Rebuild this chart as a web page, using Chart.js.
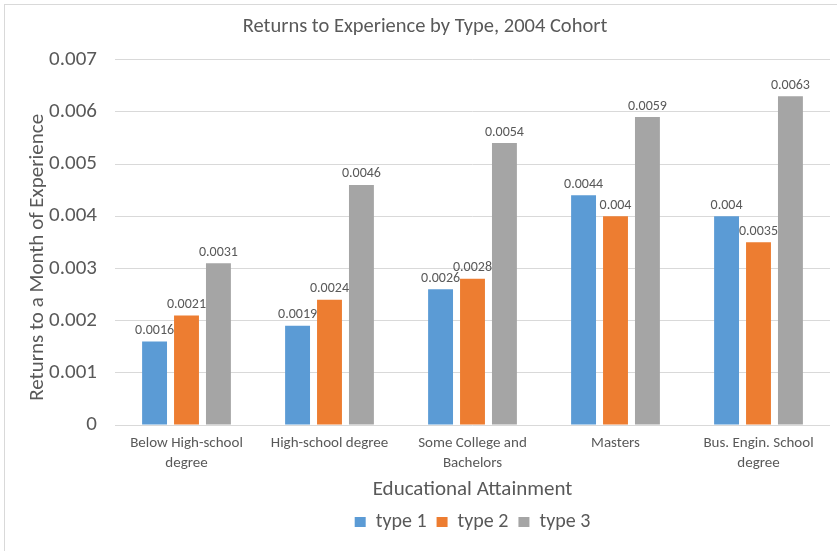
<!DOCTYPE html>
<html>
<head>
<meta charset="utf-8">
<script src="https://cdn.jsdelivr.net/npm/chart.js@4.4.1/dist/chart.umd.min.js"></script>
<style>
  html, body { margin: 0; padding: 0; background: #ffffff; }
  #wrap { width: 837px; height: 551px; }
</style>
</head>
<body>
<div id="wrap"><canvas id="c" width="837" height="551"></canvas></div>
<script>
// Categories of educational attainment (multi-line axis labels)
const categories = [
  ["Below High-school", "degree"],
  ["High-school degree"],
  ["Some College and", "Bachelors"],
  ["Masters"],
  ["Bus. Engin. School", "degree"]
];

// Returns to a month of experience, per type
const type1 = [0.0016, 0.0019, 0.0026, 0.0044, 0.0040];
const type2 = [0.0021, 0.0024, 0.0028, 0.0040, 0.0035];
const type3 = [0.0031, 0.0046, 0.0054, 0.0059, 0.0063];

const seriesNames = ["type 1", "type 2", "type 3"];
const yTicks = [0, 0.001, 0.002, 0.003, 0.004, 0.005, 0.006, 0.007];
const yTitle = "Returns to a Month of Experience";

const TEXT = "#595959";
const FONT = "Carlito, Lato, 'Open Sans', sans-serif";

// Light frame around the whole chart
const framePlugin = {
  id: "frame",
  beforeDraw(chart) {
    const ctx = chart.ctx;
    ctx.save();
    ctx.fillStyle = "#ffffff";
    ctx.fillRect(0, 0, chart.width, chart.height);
    ctx.strokeStyle = "#d9d9d9";
    ctx.lineWidth = 1;
    ctx.strokeRect(4.5, 4.5, chart.width + 20, chart.height + 20);
    ctx.restore();
  }
};

// Legend centred under the plot area rather than the canvas
const legendCenterPlugin = {
  id: "legendCenter",
  afterLayout(chart) {
    const lg = chart.legend;
    if (lg) {
      lg.left = chart.chartArea.left;
      lg.right = chart.chartArea.right;
      lg.width = lg.right - lg.left;
    }
  }
};

// Rotated value-axis title, sitting slightly below the plot's middle
const yTitlePlugin = {
  id: "yTitle",
  afterDraw(chart) {
    const ctx = chart.ctx;
    const area = chart.chartArea;
    ctx.save();
    ctx.translate(38, (area.top + area.bottom) / 2 + 15);
    ctx.rotate(-Math.PI / 2);
    ctx.font = "21px " + FONT;
    ctx.fillStyle = TEXT;
    ctx.textAlign = "center";
    ctx.textBaseline = "middle";
    ctx.fillText(yTitle, 0, 0);
    ctx.restore();
  }
};

// Value labels above every bar
const valueLabels = {
  id: "valueLabels",
  afterDatasetsDraw(chart) {
    const ctx = chart.ctx;
    ctx.save();
    ctx.font = "14px " + FONT;
    ctx.fillStyle = TEXT;
    ctx.textAlign = "center";
    ctx.textBaseline = "bottom";
    chart.data.datasets.forEach((ds, i) => {
      const meta = chart.getDatasetMeta(i);
      meta.data.forEach((bar, j) => {
        ctx.fillText(String(ds.data[j]), bar.x, bar.y - 4);
      });
    });
    ctx.restore();
  }
};

new Chart(document.getElementById("c"), {
  type: "bar",
  data: {
    labels: categories,
    datasets: [
      { label: seriesNames[0], data: type1, backgroundColor: "#5B9BD5" },
      { label: seriesNames[1], data: type2, backgroundColor: "#ED7D31" },
      { label: seriesNames[2], data: type3, backgroundColor: "#A5A5A5" }
    ]
  },
  options: {
    responsive: false,
    animation: false,
    devicePixelRatio: 1,
    categoryPercentage: 0.67,
    barPercentage: 0.78,
    layout: { padding: { left: 20, right: 7, top: 0, bottom: 9 } },
    plugins: {
      title: {
        display: true,
        text: "Returns to Experience by Type, 2004 Cohort",
        color: TEXT,
        font: { family: FONT, size: 20.5, weight: "normal" },
        padding: { top: 15, bottom: 20 }
      },
      legend: {
        position: "bottom",
        labels: {
          color: TEXT,
          font: { family: FONT, size: 20 },
          boxWidth: 11,
          boxHeight: 10,
          padding: 10
        }
      },
      tooltip: { enabled: false }
    },
    scales: {
      x: {
        afterFit(scale) { scale.height = 77; },
        grid: { display: false, drawTicks: false },
        border: { display: false },
        ticks: {
          color: TEXT,
          font: { family: FONT, size: 15, lineHeight: 1.33 },
          padding: 8,
          maxRotation: 0,
          autoSkip: false
        },
        title: {
          display: true,
          text: "Educational Attainment",
          color: TEXT,
          font: { family: FONT, size: 21 },
          padding: { top: 2, bottom: 0 }
        }
      },
      y: {
        min: 0,
        max: 0.007,
        afterBuildTicks(scale) {
          scale.ticks = yTicks.map(v => ({ value: v }));
        },
        afterFit(scale) { scale.width = 95; },
        grid: { color: "#d9d9d9", drawTicks: false },
        border: { display: false },
        ticks: {
          color: TEXT,
          font: { family: FONT, size: 21 },
          padding: 18,
          callback: v => String(+v.toFixed(3))
        },
        title: { display: false }
      }
    }
  },
  plugins: [framePlugin, legendCenterPlugin, yTitlePlugin, valueLabels]
});
</script>
</body>
</html>
